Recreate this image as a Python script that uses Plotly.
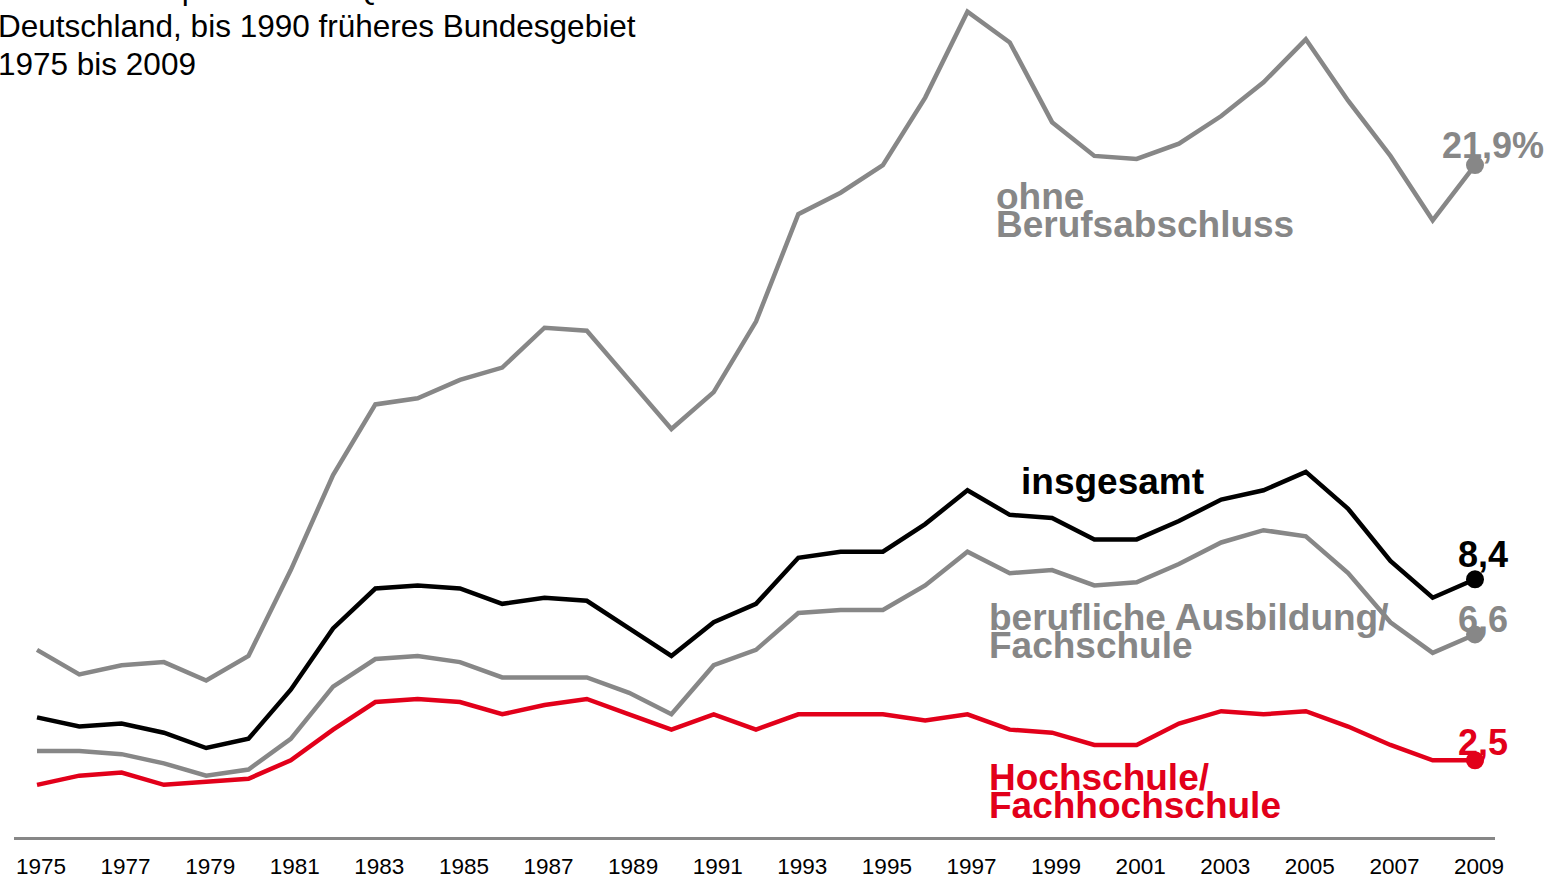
import plotly.graph_objects as go

years = list(range(1975, 2010))

ohne_berufsabschluss = [6.1, 5.3, 5.6, 5.7, 5.1, 5.9, 8.7, 11.8, 14.1, 14.3, 14.9, 15.3, 16.6, 16.5,
                        14.9, 13.3, 14.5, 16.8, 20.3, 21.0, 21.9, 24.1, 26.9, 25.9, 23.3, 22.2,
                        22.1, 22.6, 23.5, 24.6, 26.0, 24.0, 22.2, 20.1, 21.9]
insgesamt = [3.9, 3.6, 3.7, 3.4, 2.9, 3.2, 4.8, 6.8, 8.1, 8.2, 8.1, 7.6, 7.8, 7.7,
             6.8, 5.9, 7.0, 7.6, 9.1, 9.3, 9.3, 10.2, 11.3, 10.5, 10.4, 9.7,
             9.7, 10.3, 11.0, 11.3, 11.9, 10.7, 9.0, 7.8, 8.4]
berufliche_ausbildung = [2.8, 2.8, 2.7, 2.4, 2.0, 2.2, 3.2, 4.9, 5.8, 5.9, 5.7, 5.2, 5.2, 5.2,
                         4.7, 4.0, 5.6, 6.1, 7.3, 7.4, 7.4, 8.2, 9.3, 8.6, 8.7, 8.2,
                         8.3, 8.9, 9.6, 10.0, 9.8, 8.6, 7.0, 6.0, 6.6]
hochschule = [1.7, 2.0, 2.1, 1.7, 1.8, 1.9, 2.5, 3.5, 4.4, 4.5, 4.4, 4.0, 4.3, 4.5,
              4.0, 3.5, 4.0, 3.5, 4.0, 4.0, 4.0, 3.8, 4.0, 3.5, 3.4, 3.0,
              3.0, 3.7, 4.1, 4.0, 4.1, 3.6, 3.0, 2.5, 2.5]

tick_years = list(range(1975, 2010, 2))
end_labels = ["21,9%", "8,4", "6,6", "2,5"]

GRAY = "#878787"
BLACK = "#000000"
RED = "#E2001A"
FONT = "Liberation Sans, Arial, sans-serif"

W, H = 1554, 879
ML, MR, MT, MB = 14, 59, 0, 42
PW, PH = W - ML - MR, H - MT - MB


def px(x):
    return (x - ML) / PW


def py(y):
    return (H - MB - y) / PH


fig = go.Figure()
series = [
    (ohne_berufsabschluss, GRAY),
    (insgesamt, BLACK),
    (berufliche_ausbildung, GRAY),
    (hochschule, RED),
]
for vals, col in series:
    fig.add_trace(go.Scatter(x=years, y=vals, mode="lines",
                             line=dict(color=col, width=4.5), showlegend=False,
                             hoverinfo="skip", cliponaxis=False))
    fig.add_trace(go.Scatter(x=[years[-1]], y=[vals[-1]], mode="markers",
                             marker=dict(color=col, size=18), showlegend=False,
                             hoverinfo="skip", cliponaxis=False))

ann = []
# end value labels
for (vals, col), lab, ycen in zip(series, end_labels, [145, 554, 619, 742]):
    ann.append(dict(x=years[-1], xref="x", y=py(ycen), yref="paper", text=lab,
                    showarrow=False, xanchor="center", yanchor="middle",
                    font=dict(family=FONT, size=36, color=col, weight="bold")))
    if lab == "21,9%":
        ann[-1]["xshift"] = 18
    else:
        ann[-1]["xshift"] = 8

# series labels (each line separately for tight spacing)
labels = [
    ("ohne", 994, 196, GRAY),
    ("Berufsabschluss", 994, 224, GRAY),
    ("insgesamt", 1019, 481, BLACK),
    ("berufliche Ausbildung/", 987, 617, GRAY),
    ("Fachschule", 987, 645, GRAY),
    ("Hochschule/", 987, 777, RED),
    ("Fachhochschule", 987, 805, RED),
]
for t, x0, y0, col in labels:
    ann.append(dict(x=px(x0), xref="paper", y=py(y0), yref="paper", text=t,
                    showarrow=False, xanchor="left", yanchor="middle",
                    font=dict(family=FONT, size=37, color=col, weight="bold")))

# title lines
titles = [
    ("Arbeitslosenquoten nach Qualifikation in %", -12),
    ("Deutschland, bis 1990 früheres Bundesgebiet", 26),
    ("1975 bis 2009", 64),
]
for t, y0 in titles:
    ann.append(dict(x=px(-4), xref="paper", y=py(y0), yref="paper", text=t,
                    showarrow=False, xanchor="left", yanchor="middle",
                    font=dict(family=FONT, size=31.5, color="#000000")))

fig.update_layout(
    width=W, height=H,
    margin=dict(l=ML, r=MR, t=MT, b=MB),
    paper_bgcolor="white", plot_bgcolor="white",
    annotations=ann,
    xaxis=dict(range=[1974.456, 2009.473], tickmode="array", tickvals=tick_years,
               ticktext=[str(y) for y in tick_years], showgrid=False, zeroline=False,
               showline=True, linecolor="#878787", linewidth=3, ticks="",
               ticklabelstandoff=7, ticklabelshift=4,
               tickfont=dict(family=FONT, size=22.5, color="#000000")),
    yaxis=dict(range=[0, 837 / 30.68], showgrid=False, zeroline=False,
               showline=False, showticklabels=False, ticks=""),
)

fig.write_html("out.html", config={"displayModeBar": False},
               post_script="document.body.style.margin='0px';")
